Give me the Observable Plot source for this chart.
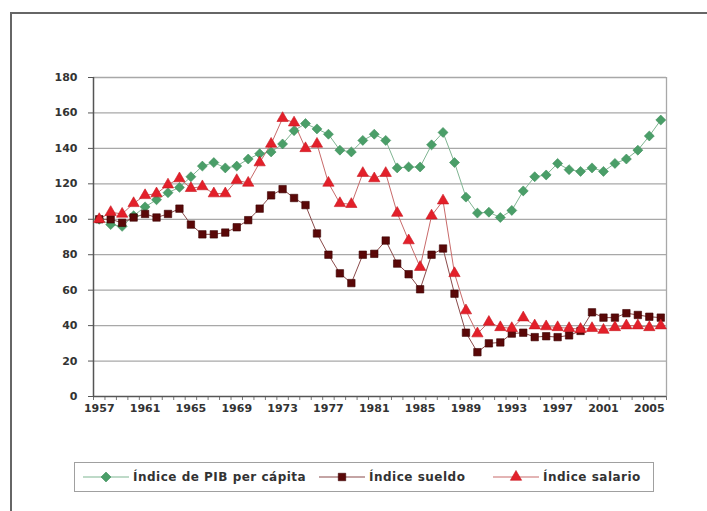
<!DOCTYPE html>
<html>
<head>
<meta charset="utf-8">
<script src="https://cdn.jsdelivr.net/npm/d3@7"></script>
<script src="https://cdn.jsdelivr.net/npm/@observablehq/plot@0.6"></script>
<style>
  html, body { margin: 0; padding: 0; background: #fff; }
  body { width: 707px; height: 511px; overflow: hidden; position: relative; font-family: "DejaVu Sans", "Liberation Sans", Arial, sans-serif; }
  #frame { position: absolute; left: 10px; top: 12px; width: 720px; height: 520px; border: 2px solid #666; box-sizing: border-box; }
  #chart { position: absolute; left: 0; top: 0; }
  #legend { position: absolute; left: 74px; top: 462px; width: 580px; height: 30px; border: 1px solid #a0a0a0; box-sizing: border-box; }
  .item { position: absolute; top: 0; height: 28px; display: flex; align-items: center; font-weight: bold; font-size: 12px; letter-spacing: 0.5px; color: #333; white-space: nowrap; }
  .item svg { margin-right: 4px; }
</style>
</head>
<body>
<div id="frame"></div>
<div id="chart"></div>
<div id="legend"></div>
<script>
const years = [1957,1958,1959,1960,1961,1962,1963,1964,1965,1966,1967,1968,1969,1970,1971,1972,1973,1974,1975,1976,1977,1978,1979,1980,1981,1982,1983,1984,1985,1986,1987,1988,1989,1990,1991,1992,1993,1994,1995,1996,1997,1998,1999,2000,2001,2002,2003,2004,2005,2006];
const pib = [100,97,96,102,107,111,115,118,124,130,132,129,130,134,137,138,142.5,150,154,151,148,139,138,144.5,148,144.5,129,129.5,129.5,142,149,132,112.5,103.5,104,101,105,116,124,125,131.5,128,127,129,127,131.5,134,139,147,156];
const sueldo = [100,100,98,101,103,101,103,106,97,91.5,91.5,92.5,95.5,99.5,106,113.5,117,112,108,92,80,69.5,64,80,80.5,88,75,69,60.5,80,83.5,58,36,25,30,30.5,35.5,36,33.5,34,33.5,34.5,37,47.5,44.5,44.5,47,46,45,44.5];
const salario = [100,104,103,109,113.5,114.5,119.5,123,117.5,118.5,114.5,114.5,122,120.5,132,142.5,157,154.5,140,142.5,120.5,109,108.5,126,123,126,103.5,88,73,102,110.5,69.5,48.5,35.5,42,39,38.5,44.5,40,39.5,39,38.5,38,38.5,37.5,39,40,40,39,40];
const seriesNames = ["Índice de PIB per cápita", "Índice sueldo", "Índice salario"];
const labelYears = [1957,1961,1965,1969,1973,1977,1981,1985,1989,1993,1997,2001,2005];
const yTicks = [0,20,40,60,80,100,120,140,160,180];

const rows = [];
years.forEach((yr, i) => {
  rows.push({year: yr, value: pib[i], series: seriesNames[0]});
  rows.push({year: yr, value: sueldo[i], series: seriesNames[1]});
  rows.push({year: yr, value: salario[i], series: seriesNames[2]});
});
const boundaries = [years[0] - 0.5, ...years.map(y => y + 0.5)];
const xMin = years[0] - 0.5, xMax = years[years.length - 1] + 0.5;

const styles = [
  {name: seriesNames[0], line: "#7fb592", fill: "#4a9e68", stroke: "#3f8f5c", symbol: "diamond2", r: 4.5},
  {name: seriesNames[1], line: "#8a4a4a", fill: "#5a0808", stroke: "#3a0000", symbol: "square", r: 4.2},
  {name: seriesNames[2], line: "#c86a6a", fill: "#e3202a", stroke: "#c81820", symbol: "triangle", r: 4.2}
];

const fontFam = "'DejaVu Sans', 'Liberation Sans', Arial, sans-serif";
const marks = [
  Plot.ruleY(yTicks.filter(d => d > 0), {stroke: "#a8a8a8", strokeWidth: 1.3}),
  Plot.ruleX([xMax], {y1: 0, y2: yTicks[yTicks.length - 1], stroke: "#a8a8a8", strokeWidth: 1.3}),
  Plot.axisY({ticks: yTicks, tickSize: 5, tickPadding: 11, fontSize: 11, fontWeight: "bold", stroke: "#555", label: null}),
  Plot.axisX({ticks: boundaries, tickSize: 4, tickFormat: () => "", stroke: "#777", label: null}),
  Plot.axisX({ticks: labelYears, tickSize: 0, tickPadding: 8, fontSize: 11, fontWeight: "bold", tickFormat: d => String(d), label: null}),
  Plot.ruleX([xMin], {y1: 0, y2: yTicks[yTicks.length - 1], stroke: "#555", strokeWidth: 1.5}),
  Plot.ruleY([0], {stroke: "#555", strokeWidth: 1.5})
];
for (const s of styles) {
  const data = rows.filter(d => d.series === s.name);
  marks.push(Plot.line(data, {x: "year", y: "value", stroke: s.line, strokeWidth: 1}));
}
for (const s of styles) {
  const data = rows.filter(d => d.series === s.name);
  marks.push(Plot.dot(data, {x: "year", y: "value", symbol: () => s.symbol, r: s.r, fill: s.fill, stroke: s.stroke, strokeWidth: 0.6}));
}

const chart = Plot.plot({
  width: 707,
  height: 460,
  marginLeft: 93,
  marginRight: 41,
  marginTop: 77,
  marginBottom: 64,
  style: {fontFamily: fontFam, color: "#333", background: "transparent"},
  x: {type: "linear", domain: [xMin, xMax], axis: null, label: null},
  y: {domain: [0, 180], axis: null, label: null},
  symbol: {type: "identity"},
  marks
});
document.getElementById("chart").append(chart);

// legend
const legend = document.getElementById("legend");
const lefts = [8, 244, 418];
styles.forEach((s, i) => {
  const item = document.createElement("div");
  item.className = "item";
  item.style.left = lefts[i] + "px";
  const sym = d3.symbol().type({diamond2: d3.symbolDiamond2, square: d3.symbolSquare, triangle: d3.symbolTriangle}[s.symbol]).size(Math.PI * s.r * s.r)();
  item.innerHTML = `<svg width="46" height="14"><line x1="0" x2="46" y1="7" y2="7" stroke="${s.line}" stroke-width="1.2"/><path d="${sym}" transform="translate(23,7)" fill="${s.fill}" stroke="${s.stroke}" stroke-width="0.6"/></svg><span>${s.name}</span>`;
  legend.append(item);
});
</script>
</body>
</html>
